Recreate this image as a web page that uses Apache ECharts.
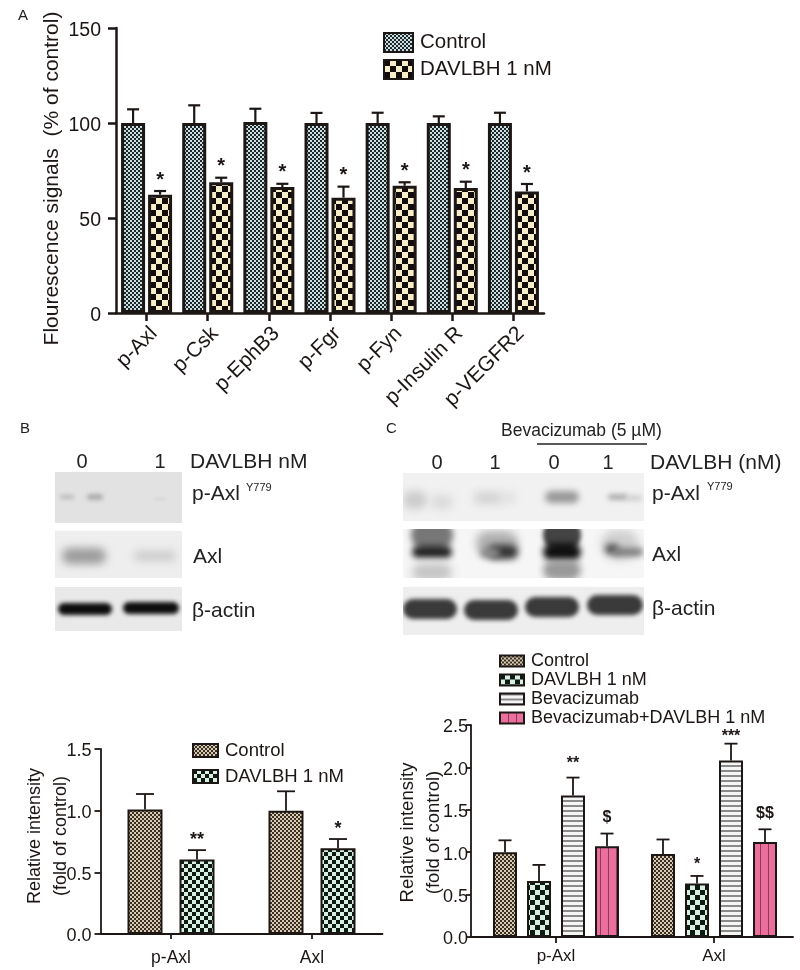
<!DOCTYPE html>
<html>
<head>
<meta charset="utf-8">
<style>html,body{margin:0;padding:0;background:#fff}#c{width:800px;height:970px}</style>
<script src="https://cdn.jsdelivr.net/npm/echarts@6/dist/echarts.min.js"></script>
</head>
<body>
<div id="c"></div>
<script>
// ---- data: panel A
const catsA = ['p-Axl','p-Csk','p-EphB3','p-Fgr','p-Fyn','p-Insulin R','p-VEGFR2'];
const ticksA = [0,50,100,150];
const controlA = [100,100,100.5,100,100,100,100];
const controlAErr = [107.2,109.3,107.5,105.3,105.4,103.5,105.4];
const davlbhA = [62.3,68.8,66.3,60.7,67,65.8,64];
const davlbhAErr = [64.2,71.2,68,66.5,68.8,69.1,67.9];
const davlbhAMarks = ['*','*','*','*','*','*','*'];
// ---- data: panel B
const catsB = ['p-Axl','Axl'];
const controlB = [1.01,1.0];
const controlBErr = [1.135,1.157];
const davlbhB = [0.605,0.695];
const davlbhBErr = [0.68,0.77];
const davlbhBMarks = ['**','*'];
// ---- data: panel C
const catsC = ['p-Axl','Axl'];
const controlC = [1.0,0.98];
const controlCErr = [1.14,1.15];
const davlbhC = [0.66,0.63];
const davlbhCErr = [0.85,0.72];
const davlbhCMarks = ['','*'];
const bevC = [1.67,2.08];
const bevCErr = [1.88,2.28];
const bevCMarks = ['**','***'];
const comboC = [1.07,1.12];
const comboCErr = [1.22,1.27];
const comboCMarks = ['$','$$'];

const FONT = '"Liberation Sans", Arial, sans-serif';
const INK = '#1c1614';

function pat(size, draw){
  const c = document.createElement('canvas'); c.width = c.height = size;
  draw(c.getContext('2d'), size); return {image:c, repeat:'repeat'};
}
function checker(cell, dark, light){
  return pat(cell*2,(g,s)=>{g.fillStyle=light;g.fillRect(0,0,s,s);g.fillStyle=dark;g.fillRect(0,0,cell,cell);g.fillRect(cell,cell,cell,cell);});
}
const P = {
  aCtrl: checker(2,'#20262a','#c9dfe0'),
  aDav: checker(6,'#120c0a','#f8edc9'),
  tan: checker(2,'#3a2f25','#d8cbb2'),
  bDav: checker(4,'#0f1a14','#d8efe2'),
  cDav: checker(5,'#0f1a14','#d8efe2'),
  bev: pat(5,(g,s)=>{g.fillStyle='#f5f5f5';g.fillRect(0,0,s,s);g.fillStyle='#8a8a8a';g.fillRect(0,0,s,2);}),
  pink: pat(8,(g,s)=>{g.fillStyle='#ea6f9c';g.fillRect(0,0,s,s);g.fillStyle='#8c3a58';g.fillRect(0,0,1,s);})
};

function barS(name, data, color, gi, w, gap, bw){
  return {type:'bar', name, data, xAxisIndex:gi, yAxisIndex:gi, barWidth:w, barGap:gap, z:2,
    itemStyle:{color, borderColor:INK, borderWidth:bw}};
}
function errS(vals, tops, marks, gi, offset, cap, lw, fs, lift){
  return {type:'custom', xAxisIndex:gi, yAxisIndex:gi, z:3, silent:true, clip:false,
    data: vals.map((v,i)=>[i,v,tops[i]]),
    encode:{x:0,y:[1,2]},
    renderItem(params, api){
      const i = api.value(0);
      const a = api.coord([i, api.value(1)]), b = api.coord([i, api.value(2)]);
      const x = a[0]+offset;
      const st = {stroke:INK, lineWidth:lw, fill:null};
      const kids = [
        {type:'line', shape:{x1:x,y1:a[1],x2:x,y2:b[1]}, style:st},
        {type:'line', shape:{x1:x-cap/2,y1:b[1],x2:x+cap/2,y2:b[1]}, style:st}
      ];
      const m = marks && marks[i];
      const up = Array.isArray(lift) ? lift[i] : lift;
      if(m) kids.push({type:'text', style:{text:m,x:x,y:b[1]-up,align:'center',verticalAlign:'bottom',font:'bold '+fs+'px '+FONT,fill:INK}});
      return {type:'group', children:kids};
    }};
}
function yAx(gi, min, max, interval, fs, name, nameFs, gap, tick, lw, off, pad, lh, fmt, margin){
  return {type:'value', gridIndex:gi, min, max, interval, offset:off,
    name, nameLocation:'middle', nameGap:gap, nameRotate:90, nameMoveOverlap:false,
    nameTextStyle:{fontFamily:FONT,fontSize:nameFs,color:INK,padding:pad,lineHeight:lh},
    splitLine:{show:false},
    axisLine:{show:true,lineStyle:{color:INK,width:lw}},
    axisTick:{show:true,length:tick,lineStyle:{color:INK,width:lw}},
    axisLabel:{fontFamily:FONT,fontSize:fs,color:INK,margin,formatter:fmt,verticalAlign:'top',lineHeight:5}};
}
function xAx(gi, cats, fs, tick, lw, rot, margin, va){
  return {type:'category', gridIndex:gi, data:cats,
    axisLine:{show:true,lineStyle:{color:INK,width:lw}},
    axisTick:{show:true,alignWithLabel:true,length:tick,lineStyle:{color:INK,width:lw}},
    axisLabel:Object.assign({fontFamily:FONT,fontSize:fs,color:INK,rotate:rot,margin,interval:0},va?{verticalAlign:va}:{})};
}
function legendOf(names, left, top, iw, ih, gap, fs, pad){
  return {show:true, orient:'vertical', left, top, itemWidth:iw, itemHeight:ih, itemGap:gap, selectedMode:false, icon:'rect',
    data:names, padding:0, formatter:n=>n.split(':')[1],
    textStyle:{fontFamily:FONT,fontSize:fs,color:INK,padding:pad}};
}

// ---- western-blot panels, painted once on one canvas
const panels = [
  [55,472,127,51,'#e2e2e2'],[55,531,127,47,'#eeeeee'],[55,587,127,44,'#e9e9e9'],
  [403,473,241,48,'#f1f1f1'],[403,529,241,49,'#f6f6f6'],[403,587,241,48,'#eeeeee']
];
const bands = [
  [67,497,7,2,'#b8b8b8',2],[95,497,8,3,'#acacac',2],[160,499,6,1,'#d2d2d2',1.5],
  [84,556,22,8,'#9c9c9c',4],[155,556,21,5,'#cbcbcb',4],
  [85,609,27,6,'#0d0d0d',2],[151,608,28,6,'#0d0d0d',2],
  [415,500,12,9,'#cbcbcb',4],[442,502,11,7,'#dadada',4],[488,498,14,6,'#d2d2d2',4],[508,498,8,5,'#dedede',4],
  [562,497,17,6,'#989898',3],[618,497,10,3,'#adadad',2.5],[634,498,8,3,'#d0d0d0',2.5],
  [432,535,21,16,'#777777',3],[432,552,20,6,'#222222',3],[432,572,20,9,'#c6c6c6',4],
  [497,543,21,12,'#b0b0b0',4],[503,552,15,7,'#333333',3.5],[490,553,10,5,'#8a8a8a',3],
  [562,535,19,16,'#444444',2],[562,552,19,9,'#111111',3],[562,570,19,10,'#999999',3.5],
  [620,545,19,15,'#cfcfcf',4],[612,549,7,5,'#555555',3],[628,552,15,4,'#7a7a7a',3],
  [430,609,27,10,'#3a3a3a',2],[491,610,27,10,'#3a3a3a',2],[552,607,27,10,'#3a3a3a',2],[615,605,28,10,'#3a3a3a',2]
];
const blotCanvas = document.createElement('canvas');
blotCanvas.width = 800; blotCanvas.height = 970;
(function(){
  const g = blotCanvas.getContext('2d');
  panels.forEach(p=>{g.fillStyle=p[4];g.fillRect(p[0],p[1],p[2],p[3]);});
  bands.forEach(b=>{
    const p = panels.find(q=>b[0]>=q[0]&&b[0]<=q[0]+q[2]&&b[1]>=q[1]&&b[1]<=q[1]+q[3]);
    g.save(); g.beginPath(); g.rect(p[0],p[1],p[2],p[3]); g.clip();
    g.filter='blur('+b[5]+'px)'; g.fillStyle=b[4];
    g.beginPath(); g.roundRect(b[0]-b[2],b[1]-b[3],2*b[2],2*b[3],Math.min(b[2],b[3])); g.fill();
    g.restore();
  });
})();

function T(text,x,y,size,align){
  return {type:'text',z:5,style:{text,x,y,font:size+'px '+FONT,fill:'#222',verticalAlign:'middle',align:align||'left'}};
}
const noteTexts = [
  T('A',18,16,15), T('B',20,429,15), T('C',386,429,15),
  T('0',82,462,20,'center'), T('1',160,462,20,'center'),
  T('DAVLBH nM',190,462,21), T('p-Axl',192,494,21), T('Y779',246,488,11), T('Axl',193,557,21), T('β-actin',192,611,21),
  T('Bevacizumab (5 µM)',501,431,17.5), T('DAVLBH (nM)',650,463,21),
  T('0',437,463,20,'center'), T('1',495,463,20,'center'), T('0',554,463,20,'center'), T('1',608,463,20,'center'),
  T('p-Axl',652,494,21), T('Y779',707,487,11), T('Axl',652,555,21), T('β-actin',652,609,21)
];

const option = {
  animation:false, backgroundColor:'#fff',
  graphic:{elements:[
    {type:'image',z:0,silent:true,style:{image:blotCanvas,x:0,y:0,width:800,height:970}},
    {type:'line',z:5,shape:{x1:537,y1:444,x2:647,y2:444},style:{stroke:'#222',lineWidth:1.5}},
    {type:'line',z:5,shape:{x1:470,y1:937,x2:478,y2:937},style:{stroke:INK,lineWidth:2}},
    ...noteTexts
  ]},
  legend:[
    legendOf(['A:Control','A:DAVLBH 1 nM'],383,32,29,19,6,20.5,[0,0,0,2]),
    legendOf(['B:Control','B:DAVLBH 1 nM'],192,741,25,13,7,18.5,[0,0,0,2]),
    legendOf(['C:Control','C:DAVLBH 1 nM','C:Bevacizumab','C:Bevacizumab+DAVLBH 1 nM'],499,652,24,11,1,18,[0,0,0,2])
  ],
  grid:[
    {left:116,top:28,width:428,height:285,outerBoundsMode:'none'},
    {left:100.5,top:749,width:282,height:185,outerBoundsMode:'none'},
    {left:477,top:725,width:316,height:212,outerBoundsMode:'none'}
  ],
  xAxis:[
    xAx(0,catsA,21,8,2.5,45,10,'top'),
    xAx(1,catsB,17.5,5,1.8,0,15),
    xAx(2,catsC,17,6,1.8,0,11)
  ],
  yAxis:[
    yAx(0,ticksA[0],ticksA[3],50,19.5,'Flourescence signals  (% of control)',21,52,8,2.5,0,[0,16,0,0],24,v=>String(v),15),
    yAx(1,0,1.5,0.5,18,'Relative intensity\n(fold of control)',18,26,6,1.8,0,[0,0,0,11],26,v=>v.toFixed(1),9),
    yAx(2,0,2.5,0.5,18,'Relative intensity\n(fold of control)',18.5,24,5,1.8,6,[0,3,0,0],26,v=>v.toFixed(1),3)
  ],
  series:[
    barS('A:Control',controlA,P.aCtrl,0,24,'12.5%',3),
    barS('A:DAVLBH 1 nM',davlbhA,P.aDav,0,24,'12.5%',3),
    errS(controlA,controlAErr,null,0,-13.5,12,2.2,20,2),
    errS(davlbhA,davlbhAErr,davlbhAMarks,0,13.5,12,2.2,20,1),

    barS('B:Control',controlB,P.tan,1,35,'48.6%',2),
    barS('B:DAVLBH 1 nM',davlbhB,P.bDav,1,35,'48.6%',2),
    errS(controlB,controlBErr,null,1,-26,18,1.8,18,1),
    errS(davlbhB,davlbhBErr,davlbhBMarks,1,26,18,1.8,18,1),

    barS('C:Control',controlC,P.tan,2,24,'41.7%',2),
    barS('C:DAVLBH 1 nM',davlbhC,P.cDav,2,24,'41.7%',2),
    barS('C:Bevacizumab',bevC,P.bev,2,24,'41.7%',2),
    barS('C:Bevacizumab+DAVLBH 1 nM',comboC,P.pink,2,24,'41.7%',2),
    errS(controlC,controlCErr,null,2,-51,13,1.8,16,1),
    errS(davlbhC,davlbhCErr,davlbhCMarks,2,-17,13,1.8,16,3),
    errS(bevC,bevCErr,bevCMarks,2,17,13,1.8,16,[6,-1]),
    errS(comboC,comboCErr,comboCMarks,2,51,13,1.8,16,8)
  ]
};
echarts.init(document.getElementById('c'),null,{renderer:'canvas'}).setOption(option);
</script>
</body>
</html>
